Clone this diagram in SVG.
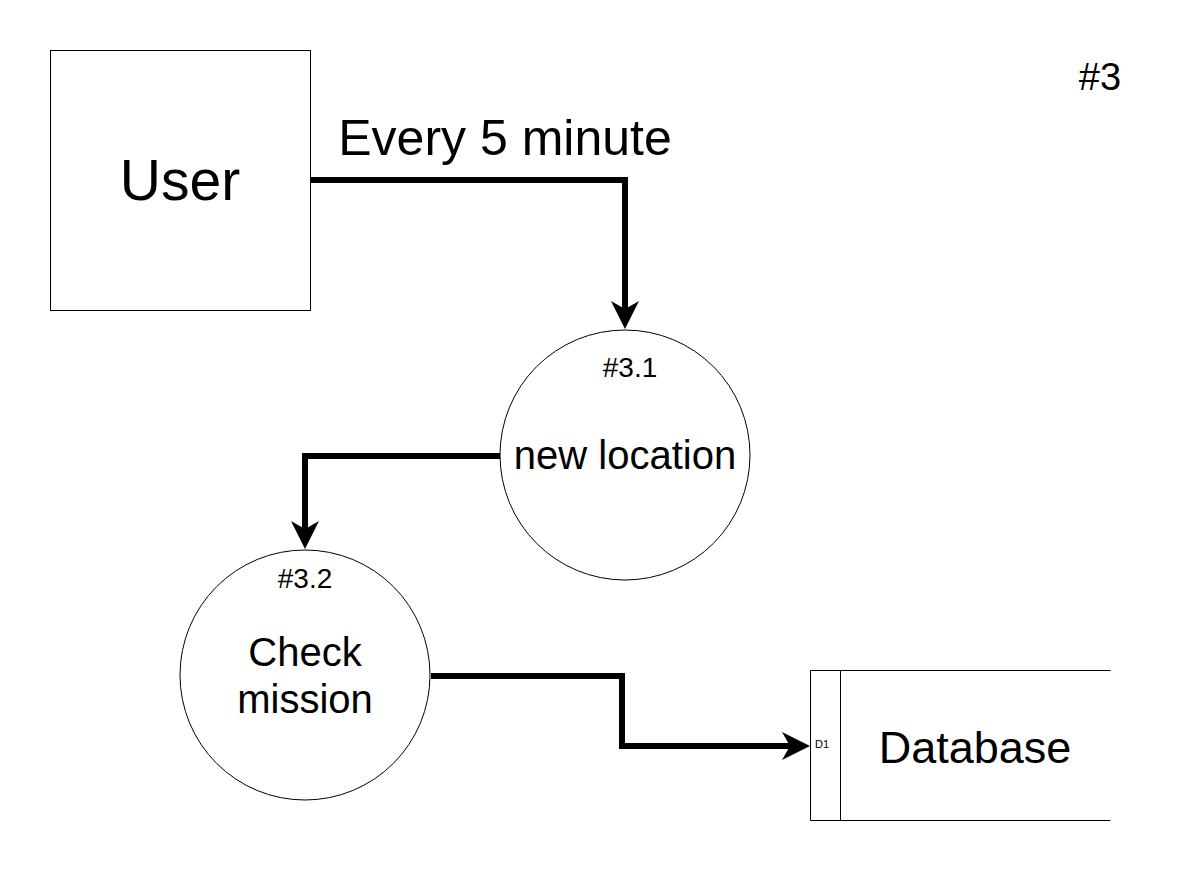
<svg xmlns="http://www.w3.org/2000/svg" width="1181" height="871" viewBox="0 0 1181 871">
<style>
text{font-family:"Liberation Sans",Arial,sans-serif;fill:#000}
.shape{fill:#fff;stroke:#000;stroke-width:1}
.flow{fill:none;stroke:#000;stroke-width:6}
.head{fill:#000;stroke:none}
</style>
<defs>
<path id="ah" d="M0,0 L-28,-14 L-20,0 L-28,14 Z"/>
</defs>
<rect width="1181" height="871" fill="#fff"/>
<text x="1100" y="90" font-size="38" text-anchor="middle">#3</text>
<g id="user">
<rect class="shape" x="50.5" y="50.5" width="260" height="260"/>
<text x="180" y="200" font-size="57" text-anchor="middle">User</text>
</g>
<g id="p31">
<circle class="shape" cx="625" cy="455" r="125"/>
<text x="630" y="377" font-size="28" text-anchor="middle">#3.1</text>
<text x="625" y="469" font-size="40" text-anchor="middle">new location</text>
</g>
<g id="p32">
<circle class="shape" cx="305" cy="675" r="125"/>
<text x="305" y="588" font-size="28" text-anchor="middle">#3.2</text>
<text x="305" y="666" font-size="40" text-anchor="middle">Check</text>
<text x="305" y="713" font-size="40" text-anchor="middle">mission</text>
</g>
<g id="db">
<path class="shape" d="M1110.5,670.5 H810.5 V820.5 H1110.5 M840.5,670.5 V820.5"/>
<text x="815" y="748" font-size="11">D1</text>
<text x="975" y="763" font-size="45" text-anchor="middle">Database</text>
</g>
<g id="connectors">
<path class="flow" d="M311,180 H625 V312"/>
<use href="#ah" class="head" transform="translate(625,329) rotate(90)"/>
<text x="505" y="155" font-size="50" text-anchor="middle">Every 5 minute</text>
<path class="flow" d="M500,456 H305 V532"/>
<use href="#ah" class="head" transform="translate(305,549) rotate(90)"/>
<path class="flow" d="M431,676 H622 V746 H792"/>
<use href="#ah" class="head" transform="translate(810,746)"/>
</g>
</svg>
